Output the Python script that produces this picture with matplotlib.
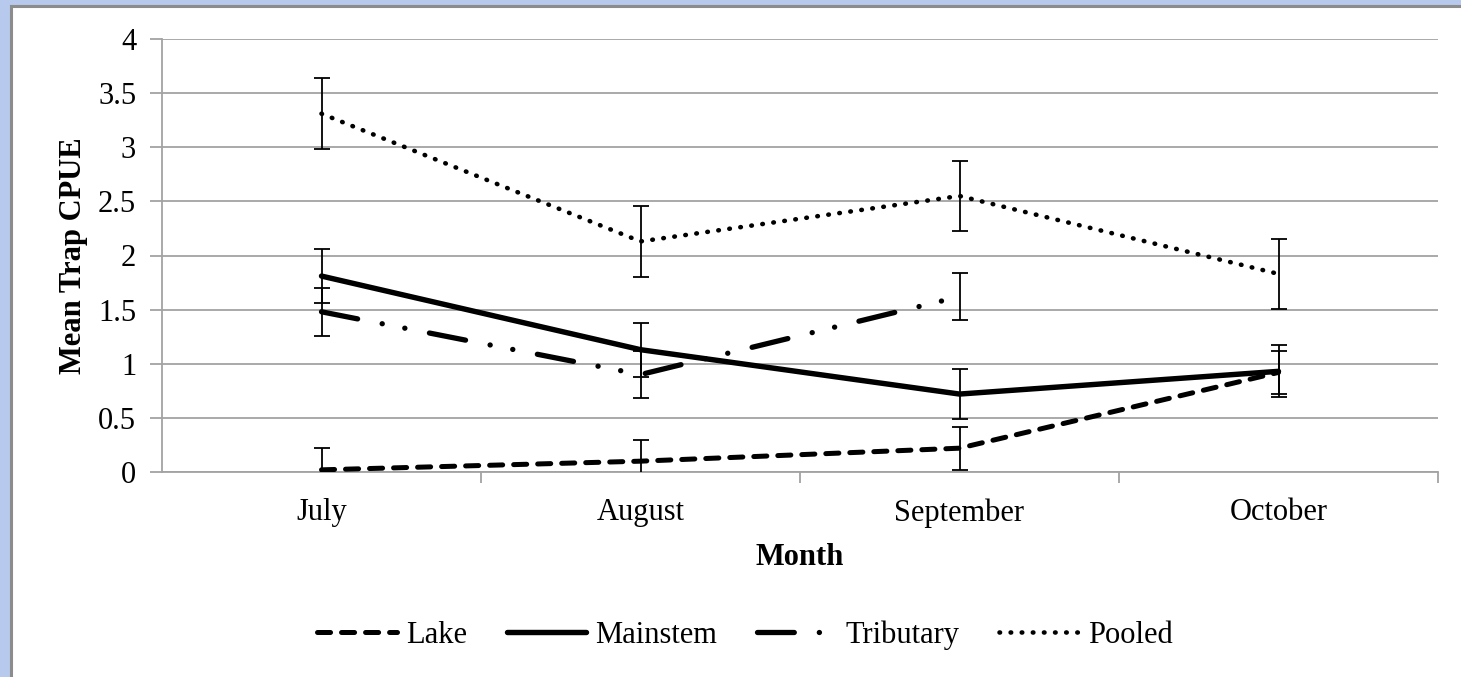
import numpy as np
import matplotlib
matplotlib.use("Agg")
import matplotlib.pyplot as plt
from matplotlib.patches import Rectangle

plt.rcParams['font.family'] = ['Liberation Serif', 'DejaVu Serif']
plt.rcParams['lines.scale_dashes'] = False

# --- data ---
MONTHS = ["July", "August", "September", "October"]
LAKE = [0.02, 0.10, 0.22, 0.92]
LAKE_ERR = [0.20, 0.20, 0.20, 0.20]
MAINSTEM = [1.81, 1.13, 0.72, 0.93]
MAINSTEM_ERR = [0.25, 0.25, 0.23, 0.24]
TRIBUTARY = [1.48, 0.90, 1.62, np.nan]
TRIBUTARY_ERR = [0.22, 0.22, 0.22, np.nan]
POOLED = [3.31, 2.13, 2.55, 1.83]
POOLED_ERR = [0.33, 0.33, 0.32, 0.32]
Y_TICKS = [0, 0.5, 1, 1.5, 2, 2.5, 3, 3.5, 4]
Y_TICK_LABELS = ["0", "0.5", "1", "1.5", "2", "2.5", "3", "3.5", "4"]

FS = 22
W, H = 1461, 677
fig = plt.figure(figsize=(W / 100, H / 100), dpi=100)
fig.patch.set_facecolor('#b7c9ec')
# white chart area with grey frame (runs off the right and bottom)
fig.patches.append(Rectangle((11.5 / W, -0.05), 1.1, 1 - 5.5 / H + 0.05,
                             transform=fig.transFigure, facecolor='white',
                             edgecolor='#8c8c8c', linewidth=2.2, zorder=-10))

ax = fig.add_axes([162 / W, 1 - 472 / H, (1438 - 162) / W, (472 - 39) / H])
ax.set_facecolor('white')
x = np.arange(len(MONTHS))

grey = '#a3a3a3'
ax.set_ylim(0, 4)
ax.set_xlim(-0.5, len(MONTHS) - 0.5)
ax.set_yticks(Y_TICKS)
ax.set_yticklabels(Y_TICK_LABELS)
ax.yaxis.grid(True, color=grey, linewidth=1.3)
ax.set_axisbelow(True)
for s in ['top', 'right']:
    ax.spines[s].set_visible(False)
for s in ['left', 'bottom']:
    ax.spines[s].set_color(grey)
    ax.spines[s].set_linewidth(1.3)

ax.set_xticks(x)
ax.set_xticklabels(MONTHS)
ax.set_xticks(np.arange(len(MONTHS)) + 0.5, minor=True)
ax.tick_params(axis='x', which='major', length=0, pad=19, labelsize=FS)
ax.tick_params(axis='x', which='minor', length=8, width=1.3, color=grey)
ax.tick_params(axis='y', length=8.6, width=1.3, color=grey, pad=10, labelsize=FS)

ax.set_xlabel("Month", fontsize=FS, fontweight='bold', labelpad=11)
ax.set_ylabel("Mean Trap CPUE", fontsize=FS, fontweight='bold', labelpad=7)

# error bars
for vals, errs in [(LAKE, LAKE_ERR), (MAINSTEM, MAINSTEM_ERR),
                   (TRIBUTARY, TRIBUTARY_ERR), (POOLED, POOLED_ERR)]:
    ax.errorbar(x, vals, yerr=errs, fmt='none', ecolor='black',
                elinewidth=1.3, capsize=5.8, capthick=1.3, zorder=3)

# lines
ax.plot(x, LAKE, color='black', linewidth=3.6, dashes=(9.4, 7.9),
        dash_capstyle='round', label="Lake", zorder=4)
ax.plot(x, MAINSTEM, color='black', linewidth=3.9, solid_capstyle='round',
        label="Mainstem", zorder=4)
ax.plot(x, TRIBUTARY, color='black', linewidth=3.8,
        dashes=(26.5, 18, 0.1, 16.5, 0.1, 18), dash_capstyle='round',
        label="Tributary", zorder=4)
ax.plot(x, POOLED, color='black', linewidth=3.3, dashes=(0.4, 7.6),
        dash_capstyle='round', label="Pooled", zorder=4)

fig.legend(*ax.get_legend_handles_labels(), loc='center',
           bbox_to_anchor=(0.51, 1 - 635 / H), ncol=4, frameon=False,
           fontsize=FS, handlelength=2.6, handletextpad=0.3,
           columnspacing=1.3)

fig.savefig("out.png", dpi=100, facecolor=fig.get_facecolor())
